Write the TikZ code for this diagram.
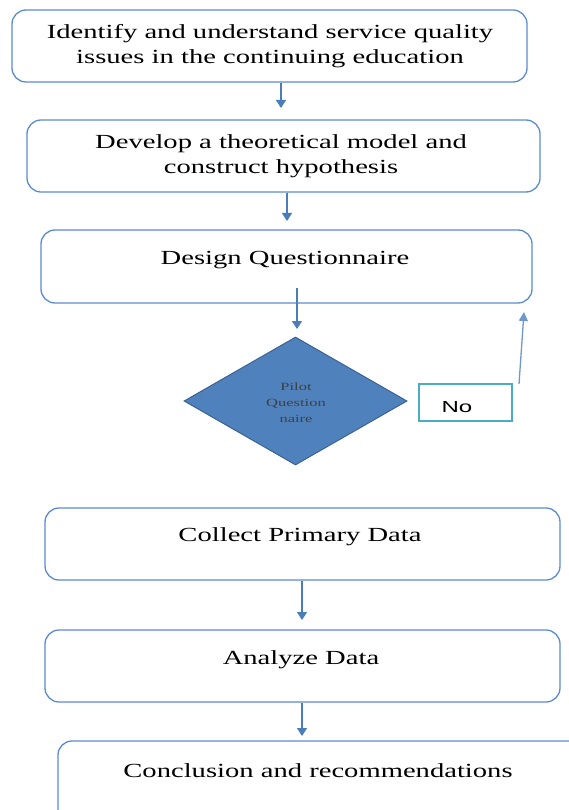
\documentclass[tikz,border=0pt]{standalone}
\usepackage{fontspec}
\setmainfont{Liberation Serif}[FakeStretch=1.43]
\newfontfamily\nofont{Liberation Sans}[FakeStretch=1.5]
\newfontfamily\diafont{Liberation Serif}[FakeStretch=1.5]
\usetikzlibrary{shapes.geometric,arrows.meta}
\definecolor{boxblue}{HTML}{5B8BD0}
\definecolor{arrblue}{HTML}{4A7EBB}
\definecolor{diafill}{HTML}{4F81BD}
\definecolor{diaedge}{HTML}{3B6291}
\definecolor{teal}{HTML}{4BACC6}
\tikzset{
  box/.style={draw=boxblue, line width=1.3pt, rounded corners=14pt, fill=white, inner sep=0pt},
  txt/.style={font=\fontsize{20}{25}\selectfont, align=center, inner sep=0pt},
  arr/.style={draw=arrblue, line width=1.4pt, -{Triangle[width=10pt,length=8pt]}},
}
\begin{document}
\begin{tikzpicture}[x=1pt,y=-1pt]
\useasboundingbox (0,0) rectangle (569,810);
\clip (0,0) rectangle (569,810);
% boxes
\node[box, minimum width=515pt, minimum height=72pt] (b1) at (269.5,46) {};
\node[txt] (t1) at (270,46) {Identify and understand service quality\\issues in the continuing education};
\node[box, minimum width=513pt, minimum height=72pt] (b2) at (283.5,156) {};
\node[txt] (t2) at (281,156) {Develop a theoretical model and\\construct hypothesis};
\node[box, minimum width=491pt, minimum height=73pt] (b3) at (286.5,266.5) {};
\node[txt] (t3) at (285,260) {Design Questionnaire};
% diamond
\node[diamond, draw=diaedge, fill=diafill, line width=1pt, minimum width=223pt, minimum height=128pt, inner sep=0pt, aspect=1.74] (d) at (295.5,401) {};
\node[font=\diafont\fontsize{11}{16}\selectfont, text=black!75, align=center, inner sep=0pt] (dt) at (296,403) {Pilot\\Question\\naire};
% No box
\node[draw=teal, line width=1.4pt, minimum width=93pt, minimum height=37pt, inner sep=0pt] (no) at (465.5,402.5) {};
\node[font=\nofont\fontsize{16}{18}\selectfont, inner sep=0pt] (not) at (457,407) {No};
\coordinate (notop) at (519,384);
\coordinate (up) at (524,312);
\draw[arrblue!80, line width=1.3pt, -{Triangle[width=9pt,length=9pt]}] (notop) -- (up);
% lower boxes
\node[box, minimum width=515pt, minimum height=72pt] (b4) at (302.5,544) {};
\node[txt] (t4) at (300,537) {Collect Primary Data};
\node[box, minimum width=515pt, minimum height=72pt] (b5) at (302.5,666) {};
\node[txt] (t5) at (301,660) {Analyze Data};
\node[box, minimum width=530pt, minimum height=90pt] (b6) at (323,786) {};
\node[txt] (t6) at (318,771) {Conclusion and recommendations};
% arrows
\draw[arr] (b1.south -| 281,0) -- (281,108);
\draw[arr] (b2.south -| 287,0) -- (287,221);
\draw[arr] (297,288) -- (297,329);
\draw[arr] (b4.south -| 302,0) -- (302,620);
\draw[arr] (b5.south -| 302,0) -- (302,736);
\end{tikzpicture}
\end{document}
